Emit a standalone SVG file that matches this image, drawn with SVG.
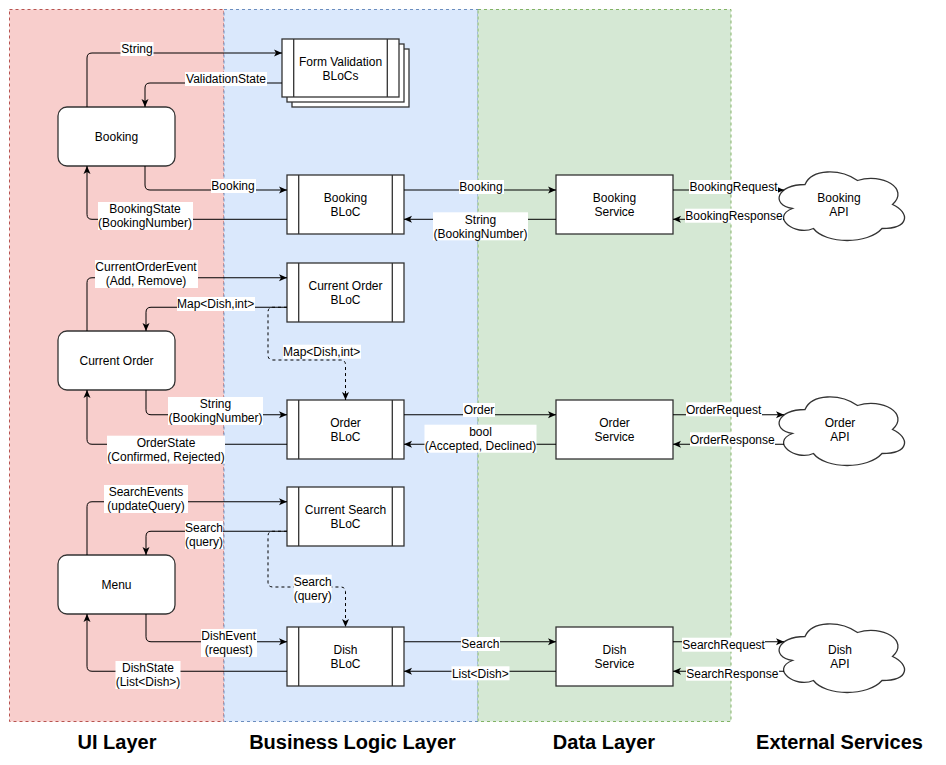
<svg xmlns="http://www.w3.org/2000/svg" xmlns:xlink="http://www.w3.org/1999/xlink" width="946" height="765" viewBox="0 0 946 765">
<style>
text{font-family:"Liberation Sans",Arial,Helvetica,sans-serif;font-size:12px;fill:#000;text-anchor:middle}
.title{font-size:20px;font-weight:bold}
.ly{stroke-dasharray:3 3;stroke-width:1}
.ui{fill:#f8cecc;stroke:#b85450}
.bl{fill:#dae8fc;stroke:#6c8ebf}
.dl{fill:#d5e8d4;stroke:#82b366}
.box{fill:#fff;stroke:#333;stroke-width:1.3}
.pl{fill:none;stroke:#333;stroke-width:1.3}
.e{fill:none;stroke:#000;stroke-width:1;marker-end:url(#arrow)}
.d{stroke-dasharray:3 3}
.bg{fill:#fff}
</style>
<defs>
<marker id="arrow" viewBox="0 0 10 10" refX="9" refY="5" markerWidth="10" markerHeight="10" markerUnits="userSpaceOnUse" orient="auto">
<path d="M1,1.5 L9,5 L1,8.5 L3,5 Z" fill="#000"/>
</marker>
<path id="cloud" d="M35,20 C7,20 0,40 22.4,44 C0,52.8 25.2,72 43.4,64 C56,80 98,80 112,64 C140,64 140,48 122.5,40 C140,24 112,8 87.5,16 C70,4 42,4 35,20 Z"/>
</defs>

<g id="layers">
<rect class="ly ui" x="9.5" y="9.5" width="214.5" height="712"/>
<rect class="ly bl" x="224" y="9.5" width="254" height="712"/>
<rect class="ly dl" x="478" y="9.5" width="253" height="712"/>
<text class="title" x="117" y="749">UI Layer</text>
<text class="title" x="352.5" y="749">Business Logic Layer</text>
<text class="title" x="604" y="749">Data Layer</text>
<text class="title" x="839.5" y="749">External Services</text>
</g>

<g id="booking">
<rect class="box" x="58" y="107" width="117" height="59" rx="9"/>
<text x="116.5" y="141">Booking</text>
</g>
<g id="form-validation-blocs">
<rect class="box" x="292" y="49" width="117" height="58"/>
<rect class="box" x="287" y="44" width="117" height="58"/>
<rect class="box" x="282" y="39" width="117" height="58"/>
<path class="pl" d="M293.7,39 V97 M387.3,39 V97"/>
<text x="340.5" y="66">Form Validation</text>
<text x="340.5" y="80">BLoCs</text>
</g>
<g id="booking-bloc">
<rect class="box" x="287" y="175" width="117" height="59"/>
<path class="pl" d="M298.7,175 V234 M392.3,175 V234"/>
<text x="345.5" y="202">Booking</text>
<text x="345.5" y="216">BLoC</text>
</g>
<g id="booking-service">
<rect class="box" x="556" y="175" width="117" height="59"/>
<text x="614.5" y="202">Booking</text>
<text x="614.5" y="216">Service</text>
</g>
<g id="booking-api">
<use xlink:href="#cloud" href="#cloud" x="770" y="164.5" class="box"/>
<text x="839" y="202">Booking</text>
<text x="839" y="216">API</text>
</g>

<g id="current-order">
<rect class="box" x="58" y="331" width="117" height="59" rx="9"/>
<text x="116.5" y="365">Current Order</text>
</g>
<g id="current-order-bloc">
<rect class="box" x="287" y="263" width="117" height="59"/>
<path class="pl" d="M298.7,263 V322 M392.3,263 V322"/>
<text x="345.5" y="290">Current Order</text>
<text x="345.5" y="304">BLoC</text>
</g>
<g id="order-bloc">
<rect class="box" x="287" y="400" width="117" height="59"/>
<path class="pl" d="M298.7,400 V459 M392.3,400 V459"/>
<text x="345.5" y="427">Order</text>
<text x="345.5" y="441">BLoC</text>
</g>
<g id="order-service">
<rect class="box" x="556" y="400" width="117" height="59"/>
<text x="614.5" y="427">Order</text>
<text x="614.5" y="441">Service</text>
</g>
<g id="order-api">
<use xlink:href="#cloud" href="#cloud" x="770" y="389.5" class="box"/>
<text x="840" y="427">Order</text>
<text x="840" y="441">API</text>
</g>

<g id="menu">
<rect class="box" x="58" y="555" width="117" height="59" rx="9"/>
<text x="116.5" y="589">Menu</text>
</g>
<g id="current-search-bloc">
<rect class="box" x="287" y="487" width="117" height="59"/>
<path class="pl" d="M298.7,487 V546 M392.3,487 V546"/>
<text x="345.5" y="514">Current Search</text>
<text x="345.5" y="528">BLoC</text>
</g>
<g id="dish-bloc">
<rect class="box" x="287" y="627" width="117" height="59"/>
<path class="pl" d="M298.7,627 V686 M392.3,627 V686"/>
<text x="345.5" y="654">Dish</text>
<text x="345.5" y="668">BLoC</text>
</g>
<g id="dish-service">
<rect class="box" x="556" y="627" width="117" height="59"/>
<text x="614.5" y="654">Dish</text>
<text x="614.5" y="668">Service</text>
</g>
<g id="dish-api">
<use xlink:href="#cloud" href="#cloud" x="770" y="616.5" class="box"/>
<text x="840" y="654">Dish</text>
<text x="840" y="668">API</text>
</g>

<g id="connectors">
<path class="e" d="M87,107 V58 Q87,53 92,53 H282"/>
<path class="e" d="M282,83 H150 Q145,83 145,88 V107"/>
<path class="e" d="M145,166 V185 Q145,190 150,190 H287"/>
<path class="e" d="M287,219.3 H92 Q87,219.3 87,214.3 V166"/>
<path class="e" d="M404,190 H556"/>
<path class="e" d="M556,219.3 H404"/>
<path class="e" d="M673,190 H784"/>
<path class="e" d="M784,219.3 H673"/>

<path class="e" d="M87,331 V282.75 Q87,277.75 92,277.75 H287"/>
<path class="e" d="M287,307.25 H151 Q146,307.25 146,312.25 V331"/>
<path class="e d" d="M287,307.25 H273 Q268,307.25 268,312.25 V355 Q268,360 273,360 H340.5 Q345.5,360 345.5,365 V400"/>
<path class="e" d="M146,390 V409.75 Q146,414.75 151,414.75 H287"/>
<path class="e" d="M287,444.25 H92 Q87,444.25 87,439.25 V390"/>
<path class="e" d="M404,414.75 H556"/>
<path class="e" d="M556,444.25 H404"/>
<path class="e" d="M673,414.75 H784"/>
<path class="e" d="M784,444.25 H673"/>

<path class="e" d="M87,555 V506.75 Q87,501.75 92,501.75 H287"/>
<path class="e" d="M287,531.25 H151 Q146,531.25 146,536.25 V555"/>
<path class="e d" d="M287,531.25 H273 Q268,531.25 268,536.25 V582 Q268,587 273,587 H340.5 Q345.5,587 345.5,592 V627"/>
<path class="e" d="M146,614 V636.75 Q146,641.75 151,641.75 H287"/>
<path class="e" d="M287,671.25 H92 Q87,671.25 87,666.25 V614"/>
<path class="e" d="M404,641.75 H556"/>
<path class="e" d="M556,671.25 H404"/>
<path class="e" d="M673,641.75 H784"/>
<path class="e" d="M784,671.25 H673"/>

<g id="labels">
<rect class="bg" x="120.5" y="42" width="33" height="14"/><text x="137" y="53.3">String</text>
<rect class="bg" x="185" y="72" width="82" height="14"/><text x="226" y="83.3">ValidationState</text>
<rect class="bg" x="211" y="179" width="45" height="14"/><text x="233" y="190.3">Booking</text>
<rect class="bg" x="98" y="202" width="95" height="28"/><text x="145" y="213.3">BookingState</text><text x="145" y="227.3">(BookingNumber)</text>
<rect class="bg" x="459" y="180" width="45" height="14"/><text x="481" y="191">Booking</text>
<rect class="bg" x="433" y="212.3" width="95" height="28"/><text x="480.5" y="223.6">String</text><text x="480.5" y="237.6">(BookingNumber)</text>
<rect class="bg" x="689" y="180" width="89" height="14"/><text x="733.5" y="191">BookingRequest</text>
<rect class="bg" x="685" y="208.7" width="98" height="14"/><text x="734" y="220">BookingResponse</text>

<rect class="bg" x="95" y="260" width="103" height="28"/><text x="146" y="271.3">CurrentOrderEvent</text><text x="146" y="285.3">(Add, Remove)</text>
<rect class="bg" x="177" y="297" width="78" height="14"/><text x="215.7" y="308.3">Map&lt;Dish,int&gt;</text>
<rect class="bg" x="283" y="344.7" width="78" height="14"/><text x="321.7" y="356">Map&lt;Dish,int&gt;</text>
<rect class="bg" x="168" y="397" width="95" height="28"/><text x="215.5" y="408.3">String</text><text x="215.5" y="422.3">(BookingNumber)</text>
<rect class="bg" x="107" y="435.7" width="118" height="28"/><text x="166" y="447">OrderState</text><text x="166" y="461">(Confirmed, Rejected)</text>
<rect class="bg" x="463" y="403" width="32" height="14"/><text x="479" y="414.3">Order</text>
<rect class="bg" x="424.5" y="424.7" width="112" height="28"/><text x="480.5" y="436">bool</text><text x="480.5" y="450">(Accepted, Declined)</text>
<rect class="bg" x="686" y="402.3" width="76" height="14"/><text x="723.6" y="413.6">OrderRequest</text>
<rect class="bg" x="690" y="432.3" width="85" height="14"/><text x="732.3" y="443.6">OrderResponse</text>

<rect class="bg" x="104" y="485" width="84" height="28"/><text x="146" y="496.3">SearchEvents</text><text x="146" y="510.3">(updateQuery)</text>
<rect class="bg" x="185" y="521" width="38" height="28"/><text x="204" y="532.3">Search</text><text x="204" y="546.3">(query)</text>
<rect class="bg" x="293.7" y="574.7" width="38" height="28"/><text x="312.7" y="586">Search</text><text x="312.7" y="599.5">(query)</text>
<rect class="bg" x="201" y="629" width="56" height="28"/><text x="228.7" y="640.3">DishEvent</text><text x="228.7" y="654.3">(request)</text>
<rect class="bg" x="115.5" y="661" width="65" height="28"/><text x="148" y="672.3">DishState</text><text x="148" y="686.3">(List&lt;Dish&gt;)</text>
<rect class="bg" x="461" y="637" width="39" height="14"/><text x="480.3" y="648.3">Search</text>
<rect class="bg" x="451.5" y="666.3" width="58" height="14"/><text x="480.3" y="677.6">List&lt;Dish&gt;</text>
<rect class="bg" x="682" y="637.7" width="83" height="14"/><text x="723.6" y="649">SearchRequest</text>
<rect class="bg" x="686" y="666.7" width="93" height="14"/><text x="732.3" y="678">SearchResponse</text>
</g>
</g>
</svg>
